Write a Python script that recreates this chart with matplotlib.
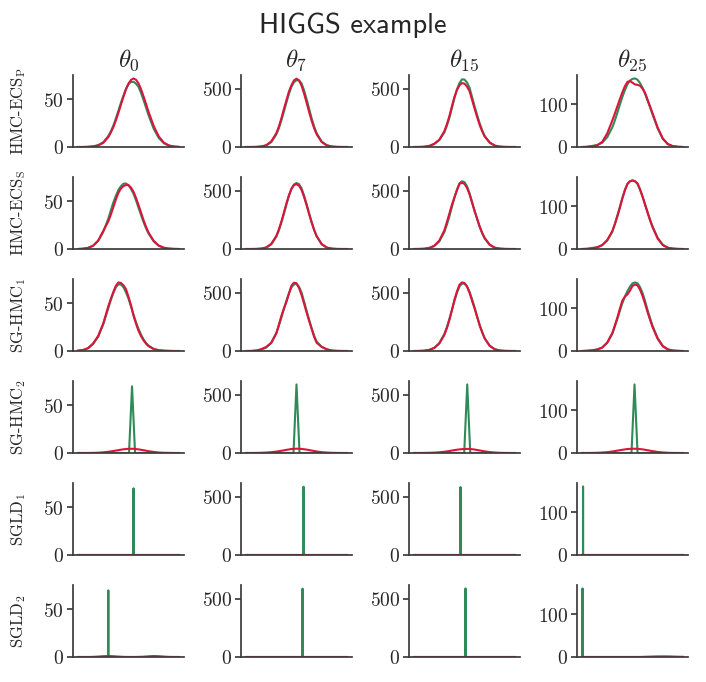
import matplotlib
matplotlib.use("Agg")
import matplotlib.pyplot as plt

plt.rcParams["mathtext.fontset"] = "cm"
plt.rcParams["axes.unicode_minus"] = False

# ---- data -------------------------------------------------------------
params = [r"$\theta_{0}$", r"$\theta_{7}$", r"$\theta_{15}$", r"$\theta_{25}$"]
methods = ["HMC-ECS$_\\mathrm{P}$", "HMC-ECS$_\\mathrm{S}$", "SG-HMC$_1$",
           "SG-HMC$_2$", "SGLD$_1$", "SGLD$_2$"]
yticks = [[0, 50], [0, 500], [0, 500], [0, 100]]

# evaluation grids of the density curves (arbitrary parameter units)
grid_fine = [0, 5, 10, 15, 20, 25, 30, 32.5, 35, 37.5, 40, 42.5, 45, 47.5,
             50, 52.5, 55, 57.5, 60, 62.5, 65, 67.5, 70, 75, 80, 85, 90, 95, 100]
grid = [0, 5, 10, 15, 20, 25, 30, 35, 40, 45, 50,
        55, 60, 65, 70, 75, 80, 85, 90, 95, 100]

# HMC-ECS_P
ecs_p_green = [
    [0, 0, 0.2, 0.7, 2.0, 5.0, 11.5, 16.5, 22.5, 30, 38, 46.5, 54, 61, 66, 68.3, 68.5, 66.5, 63, 56.5, 49, 41, 33, 19, 9.5, 4, 1.5, 0.4, 0.1],
    [0, 0.1, 0.8, 4, 14, 42, 108, 160, 228, 302, 380, 455, 515, 555, 572, 570, 545, 485, 410, 328, 245, 175, 118, 46, 15, 4, 1, 0.2, 0],
    [0, 0.5, 2, 8, 25, 60, 125, 182, 250, 335, 420, 495, 550, 582, 580, 555, 510, 430, 350, 275, 205, 145, 95, 38, 12, 3, 0.8, 0.1, 0],
    [0, 0.5, 2.5, 4.5, 10, 23, 46, 62, 80, 99, 117, 133, 146, 155, 159, 160, 157, 149, 138, 124, 108, 92, 75, 43, 19, 6.5, 2, 0.5, 0],
]
ecs_p_red = [
    [0, 0, 0.1, 0.5, 1.6, 4.4, 10.4, 15.2, 20.9, 28, 35.9, 44.5, 52.8, 60.5, 66.6, 70.5, 72, 70.5, 66.6, 60.5, 52.8, 44.8, 36.5, 22, 11, 4.6, 1.6, 0.5, 0.1],
    [0, 0.1, 0.8, 4, 15, 48, 118, 175, 245, 325, 400, 475, 530, 570, 585, 570, 525, 458, 380, 300, 225, 160, 108, 42, 14, 4, 1, 0.2, 0],
    [0, 0.5, 2, 9, 28, 62, 135, 195, 265, 350, 430, 490, 530, 550, 545, 520, 480, 405, 330, 258, 190, 135, 90, 38, 12, 3, 0.8, 0.1, 0],
    [0, 0.3, 1.5, 4, 12, 32, 62, 78, 95, 112, 128, 142, 152, 154, 150, 146, 145, 143, 136, 126, 110, 94, 78, 45, 20, 7, 2, 0.5, 0],
]

# HMC-ECS_S
ecs_s_green = [
    [0, 0.3, 1.2, 3.5, 8.5, 18, 32, 40.5, 49, 56, 62, 66, 68.5, 68.8, 67, 63, 58, 51, 43, 35.5, 28, 21.5, 16, 8, 3.5, 1.3, 0.4, 0.1, 0],
    [0, 0, 0.5, 3, 12, 40, 105, 158, 225, 300, 380, 455, 515, 552, 565, 555, 520, 458, 385, 305, 230, 162, 108, 40, 12, 3, 0.5, 0, 0],
    [0, 0.5, 2, 8, 25, 65, 145, 208, 280, 362, 440, 510, 565, 583, 575, 540, 480, 405, 330, 258, 190, 135, 90, 35, 11, 3, 0.7, 0.1, 0],
    [0, 0.5, 2.5, 4, 9, 20, 40, 58, 78, 99, 120, 138, 152, 158, 160, 158, 152, 138, 122, 104, 86, 68, 52, 26, 10, 3, 1, 0.2, 0],
]
ecs_s_red = [
    [0, 0.3, 1.2, 3.5, 9, 19, 29, 36, 44, 52, 59, 63.5, 66, 67.2, 67, 64.5, 60, 53.5, 46, 38, 30, 23, 17, 8.5, 3.5, 1.3, 0.4, 0.1, 0],
    [0, 0, 0.5, 3, 13, 44, 112, 168, 235, 312, 390, 460, 515, 548, 555, 542, 505, 445, 375, 300, 228, 163, 110, 42, 13, 3, 0.5, 0, 0],
    [0, 0.5, 2, 9, 28, 72, 160, 230, 305, 380, 445, 505, 560, 570, 560, 525, 470, 398, 325, 262, 195, 140, 95, 37, 11, 3, 0.7, 0.1, 0],
    [0, 0.3, 1.5, 4, 9, 21, 42, 58, 76, 96, 118, 137, 152, 158, 160, 158, 153, 139, 122, 103, 84, 66, 50, 24, 9, 3, 0.8, 0.2, 0],
]

# SG-HMC_1
sghmc1_green = [
    [0.3, 1, 3, 7.5, 15, 28, 45, 53.5, 61, 67, 70, 69.8, 67, 61.5, 55, 46.5, 38, 30, 23, 17, 12, 8.3, 5.5, 2.2, 0.8, 0.3, 0.1, 0, 0],
    [0, 0.5, 3, 12, 30, 70, 155, 215, 285, 358, 430, 495, 545, 570, 575, 550, 500, 425, 345, 268, 195, 130, 80, 35, 13, 3.5, 1, 0.2, 0],
    [0, 0.5, 2.5, 9, 27, 68, 145, 205, 275, 352, 430, 500, 555, 580, 580, 555, 510, 445, 375, 300, 225, 165, 110, 45, 15, 4, 1, 0.2, 0],
    [0, 0.5, 1.5, 3.5, 8, 19, 40, 57, 75, 94, 112, 127, 140, 150, 158, 160, 158, 149, 135, 116, 95, 76, 58, 30, 12, 4, 1, 0.3, 0],
]
sghmc1_red = [
    [0.3, 1, 3, 8, 16, 29, 47, 55, 62, 68.5, 72, 71.5, 69, 65, 57, 48, 37, 28.5, 21, 15.5, 11, 7.5, 5, 2, 0.8, 0.3, 0.1, 0, 0],
    [0, 0.5, 4, 15, 35, 70, 150, 225, 300, 365, 420, 490, 560, 585, 580, 540, 480, 405, 330, 258, 190, 120, 70, 35, 15, 4, 1, 0.2, 0],
    [0, 0.5, 2.5, 9, 26, 64, 138, 195, 265, 350, 440, 512, 570, 590, 585, 555, 500, 432, 365, 292, 220, 160, 108, 44, 15, 4, 1, 0.2, 0],
    [0, 0.5, 1.5, 3.5, 8, 20, 42, 60, 78, 99, 118, 127, 132, 141, 152, 155, 153, 143, 128, 110, 90, 72, 55, 28, 11, 3.5, 1, 0.3, 0],
]

# SG-HMC_2: green is a narrow spike, red a broad low bump
sghmc2_spike_x = [53.5, 50, 52.7, 52]
sghmc2_spike_h = [70, 587, 590, 160]
sghmc2_spike_w = 3
sghmc2_red = [
    [0, 0, 0, 0.1, 0.3, 0.7, 1.3, 2.1, 3.0, 3.9, 4.4, 4.4, 3.8, 2.9, 1.9, 1.1, 0.5, 0.2, 0.1, 0, 0],
    [0, 0, 0.5, 1.5, 3.5, 7, 12, 19, 27, 34, 37, 35, 29, 21, 13, 7, 3.5, 1.5, 0.5, 0, 0],
    [0, 0, 0.5, 1.5, 3, 6, 11, 17, 25, 31, 35, 35, 30, 22, 14, 8, 4, 1.5, 0.5, 0, 0],
    [0, 0, 0.1, 0.4, 1, 2, 3.5, 5.5, 7.5, 9.3, 10, 9.8, 8.5, 6.5, 4.3, 2.5, 1.2, 0.5, 0.1, 0, 0],
]

# SGLD_1
sgld1_spike_x = [55, 57, 46, 1]
sgld1_spike_h = [70, 585, 585, 160]
sgld1_spike_w = 0.05
sgld1_red = [
    [0] * 21,
    [0] * 21,
    [0] * 21,
    [0] * 21,
]

# SGLD_2
sgld2_spike_x = [30, 56, 51, 0.5]
sgld2_spike_h = [70, 585, 590, 160]
sgld2_spike_w = 0.05
sgld2_red = [
    [0, 0, 0, 0.1, 0.4, 0.8, 1.0, 0.8, 0.4, 0.1, 0, 0, 0.1, 0.3, 0.7, 1.0, 0.8, 0.4, 0.1, 0, 0],
    [0] * 21,
    [0] * 21,
    [0, 0, 0, 0, 0, 0, 0, 0, 0, 0, 0, 0, 0.2, 0.6, 1.0, 1.3, 1.4, 1.3, 1.0, 0.6, 0.3],
]

GREEN = "#2e8b57"
RED = "#dc143c"
AXCOL = "#3c3c3c"
TXT = "#262626"


def spike(x0, h, w):
    xs = [0, max(x0 - w, 0), x0, x0 + w, 100]
    ys = [0, 0, h, 0, 0]
    return xs, ys


rows = [
    ("curve", ecs_p_green, ecs_p_red),
    ("curve", ecs_s_green, ecs_s_red),
    ("curve", sghmc1_green, sghmc1_red),
    ("spike", (sghmc2_spike_x, sghmc2_spike_h, sghmc2_spike_w), sghmc2_red),
    ("spike", (sgld1_spike_x, sgld1_spike_h, sgld1_spike_w), sgld1_red),
    ("spike", (sgld2_spike_x, sgld2_spike_h, sgld2_spike_w), sgld2_red),
]

fig, axes = plt.subplots(6, 4, figsize=(7.06, 6.82), dpi=100, sharey="col")
fig.subplots_adjust(left=73 / 706, right=688 / 706, top=1 - 75 / 682,
                    bottom=1 - 657 / 682, wspace=57 / 111, hspace=30 / 72)

for i, (kind, green, red) in enumerate(rows):
    for j in range(4):
        ax = axes[i, j]
        if kind == "curve":
            ax.plot(grid_fine, green[j], color=GREEN, lw=1.5)
            ax.plot(grid_fine, red[j], color=RED, lw=1.5)
        else:
            sx, sh, sw = green
            xs, ys = spike(sx[j], sh[j], sw)
            ax.plot(xs, ys, color=GREEN, lw=1.5)
            ax.plot(grid, red[j], color=RED, lw=1.5)

        ax.set_xticks([])
        for side in ("top", "right"):
            ax.spines[side].set_visible(False)
        for side in ("left", "bottom"):
            ax.spines[side].set_color(AXCOL)
            ax.spines[side].set_linewidth(1.25)
        ax.tick_params(axis="y", length=4.5, width=1.25, color=AXCOL,
                       labelsize=14, labelcolor=TXT, pad=2)

        if i == 0:
            ax.set_title(params[j], fontsize=18, pad=6, color=TXT)
        if j == 0:
            ax.text(-0.486, 0.5, methods[i], transform=ax.transAxes,
                    rotation=90, ha="center", va="center", fontsize=12,
                    family="cmr10", color=TXT)

for j in range(4):
    axes[0, j].set_ylim(bottom=0)
    for i in range(6):
        axes[i, j].set_yticks(yticks[j], labels=[f"${t}$" for t in yticks[j]])

fig.text(0.5, 1 - 33 / 682, "HIGGS example", family="cmss10", fontsize=20.5,
         ha="center", va="baseline", color=TXT)

fig.savefig("out.png", dpi=100)
